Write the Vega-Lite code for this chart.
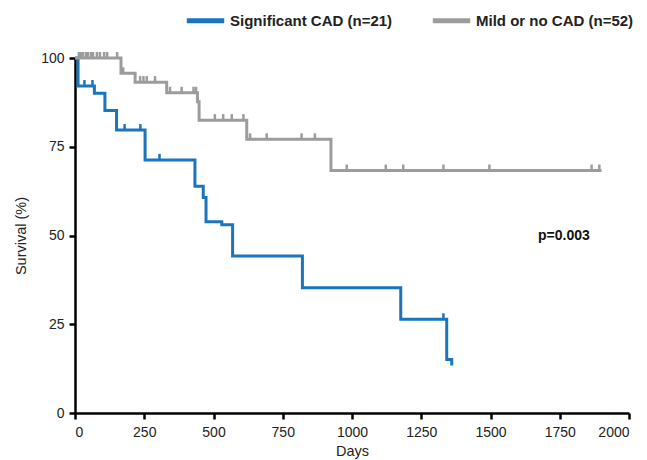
{
  "$schema": "https://vega.github.io/schema/vega-lite/v6.json",
  "width": 554,
  "height": 355,
  "autosize": {"type": "none"},
  "padding": {"left": 75, "top": 58, "right": 18, "bottom": 47},
  "background": "white",
  "config": {
    "view": {"stroke": null},
    "font": "Liberation Sans",
    "axis": {
      "grid": false,
      "domainColor": "#000000",
      "domainWidth": 2.5,
      "tickColor": "#000000",
      "tickWidth": 2.5,
      "tickSize": 6,
      "labelColor": "#222222",
      "labelFontSize": 14,
      "labelFont": "Liberation Sans",
      "titleFont": "Liberation Sans",
      "titleFontSize": 14.5,
      "titleFontWeight": "normal",
      "titleColor": "#222222"
    }
  },
  "datasets": {
    "curves": [
      {"group": "Significant CAD (n=21)", "day": 0, "survival": 100},
      {"group": "Significant CAD (n=21)", "day": 11, "survival": 92.1},
      {"group": "Significant CAD (n=21)", "day": 70, "survival": 90.1},
      {"group": "Significant CAD (n=21)", "day": 108, "survival": 85.2},
      {"group": "Significant CAD (n=21)", "day": 150, "survival": 79.7},
      {"group": "Significant CAD (n=21)", "day": 253, "survival": 71.3},
      {"group": "Significant CAD (n=21)", "day": 433, "survival": 63.9},
      {"group": "Significant CAD (n=21)", "day": 463, "survival": 60.7},
      {"group": "Significant CAD (n=21)", "day": 473, "survival": 53.9},
      {"group": "Significant CAD (n=21)", "day": 530, "survival": 53.0},
      {"group": "Significant CAD (n=21)", "day": 569, "survival": 44.2},
      {"group": "Significant CAD (n=21)", "day": 821, "survival": 35.3},
      {"group": "Significant CAD (n=21)", "day": 1176, "survival": 26.4},
      {"group": "Significant CAD (n=21)", "day": 1342, "survival": 15.1},
      {"group": "Significant CAD (n=21)", "day": 1360, "survival": 13.4},
      {"group": "Mild or no CAD (n=52)", "day": 0, "survival": 100},
      {"group": "Mild or no CAD (n=52)", "day": 166, "survival": 95.7},
      {"group": "Mild or no CAD (n=52)", "day": 217, "survival": 93.2},
      {"group": "Mild or no CAD (n=52)", "day": 331, "survival": 90.2},
      {"group": "Mild or no CAD (n=52)", "day": 442, "survival": 87.7},
      {"group": "Mild or no CAD (n=52)", "day": 448, "survival": 82.5},
      {"group": "Mild or no CAD (n=52)", "day": 620, "survival": 77.1},
      {"group": "Mild or no CAD (n=52)", "day": 924, "survival": 68.3},
      {"group": "Mild or no CAD (n=52)", "day": 1901, "survival": 68.3}
    ],
    "censors": [
      {"group": "Significant CAD (n=21)", "day": 34, "survival": 92.1},
      {"group": "Significant CAD (n=21)", "day": 63, "survival": 92.1},
      {"group": "Significant CAD (n=21)", "day": 179, "survival": 79.7},
      {"group": "Significant CAD (n=21)", "day": 236, "survival": 79.7},
      {"group": "Significant CAD (n=21)", "day": 305, "survival": 71.3},
      {"group": "Significant CAD (n=21)", "day": 1330, "survival": 26.4},
      {"group": "Mild or no CAD (n=52)", "day": 14, "survival": 100},
      {"group": "Mild or no CAD (n=52)", "day": 22, "survival": 100},
      {"group": "Mild or no CAD (n=52)", "day": 29, "survival": 100},
      {"group": "Mild or no CAD (n=52)", "day": 40, "survival": 100},
      {"group": "Mild or no CAD (n=52)", "day": 47, "survival": 100},
      {"group": "Mild or no CAD (n=52)", "day": 58, "survival": 100},
      {"group": "Mild or no CAD (n=52)", "day": 65, "survival": 100},
      {"group": "Mild or no CAD (n=52)", "day": 79, "survival": 100},
      {"group": "Mild or no CAD (n=52)", "day": 90, "survival": 100},
      {"group": "Mild or no CAD (n=52)", "day": 105, "survival": 100},
      {"group": "Mild or no CAD (n=52)", "day": 116, "survival": 100},
      {"group": "Mild or no CAD (n=52)", "day": 152, "survival": 100},
      {"group": "Mild or no CAD (n=52)", "day": 174, "survival": 95.7},
      {"group": "Mild or no CAD (n=52)", "day": 235, "survival": 93.2},
      {"group": "Mild or no CAD (n=52)", "day": 247, "survival": 93.2},
      {"group": "Mild or no CAD (n=52)", "day": 259, "survival": 93.2},
      {"group": "Mild or no CAD (n=52)", "day": 289, "survival": 93.2},
      {"group": "Mild or no CAD (n=52)", "day": 343, "survival": 90.2},
      {"group": "Mild or no CAD (n=52)", "day": 385, "survival": 90.2},
      {"group": "Mild or no CAD (n=52)", "day": 428, "survival": 90.2},
      {"group": "Mild or no CAD (n=52)", "day": 437, "survival": 90.2},
      {"group": "Mild or no CAD (n=52)", "day": 505, "survival": 82.5},
      {"group": "Mild or no CAD (n=52)", "day": 535, "survival": 82.5},
      {"group": "Mild or no CAD (n=52)", "day": 566, "survival": 82.5},
      {"group": "Mild or no CAD (n=52)", "day": 608, "survival": 82.5},
      {"group": "Mild or no CAD (n=52)", "day": 632, "survival": 77.1},
      {"group": "Mild or no CAD (n=52)", "day": 692, "survival": 77.1},
      {"group": "Mild or no CAD (n=52)", "day": 818, "survival": 77.1},
      {"group": "Mild or no CAD (n=52)", "day": 866, "survival": 77.1},
      {"group": "Mild or no CAD (n=52)", "day": 981, "survival": 68.3},
      {"group": "Mild or no CAD (n=52)", "day": 1122, "survival": 68.3},
      {"group": "Mild or no CAD (n=52)", "day": 1185, "survival": 68.3},
      {"group": "Mild or no CAD (n=52)", "day": 1330, "survival": 68.3},
      {"group": "Mild or no CAD (n=52)", "day": 1496, "survival": 68.3},
      {"group": "Mild or no CAD (n=52)", "day": 1865, "survival": 68.3},
      {"group": "Mild or no CAD (n=52)", "day": 1893, "survival": 68.3}
    ],
    "annot": [
      {"day": 1765, "survival": 50, "label": "p=0.003"}
    ]
  },
  "encoding": {
    "x": {
      "field": "day", "type": "quantitative",
      "scale": {"domain": [0, 2000], "nice": false, "zero": false},
      "axis": {"title": "Days", "format": "d", "values": [0, 250, 500, 750, 1000, 1250, 1500, 1750, 2000], "labelPadding": 6, "titlePadding": 5}
    },
    "y": {
      "field": "survival", "type": "quantitative",
      "scale": {"domain": [0, 100], "nice": false},
      "axis": {"title": "Survival (%)", "values": [0, 25, 50, 75, 100], "labelPadding": 5, "titlePadding": 12}
    }
  },
  "layer": [
    {
      "data": {"name": "curves"},
      "mark": {"type": "line", "interpolate": "step-after", "strokeWidth": 3},
      "encoding": {
        "color": {
          "field": "group", "type": "nominal",
          "scale": {"domain": ["Significant CAD (n=21)", "Mild or no CAD (n=52)"], "range": ["#1a75bc", "#9c9c9e"]},
          "legend": {
            "title": null,
            "orient": "none",
            "direction": "horizontal",
            "legendX": 109,
            "legendY": -59,
            "symbolType": "stroke",
            "symbolSize": 1400,
            "symbolStrokeWidth": 5,
            "labelFont": "Liberation Sans",
            "labelFontSize": 15,
            "labelFontWeight": "bold",
            "labelColor": "#222222",
            "labelOffset": 3,
            "labelLimit": 400,
            "columnPadding": 29
          }
        }
      }
    },
    {
      "data": {"name": "censors"},
      "mark": {"type": "rule", "strokeWidth": 2.5, "y2Offset": -6},
      "encoding": {
        "y2": {"field": "survival"},
        "color": {"field": "group", "type": "nominal", "legend": null}
      }
    },
    {
      "data": {"name": "annot"},
      "mark": {"type": "text", "font": "Liberation Sans", "fontSize": 14, "fontWeight": "bold", "color": "#111111"},
      "encoding": {"text": {"field": "label"}}
    }
  ]
}
